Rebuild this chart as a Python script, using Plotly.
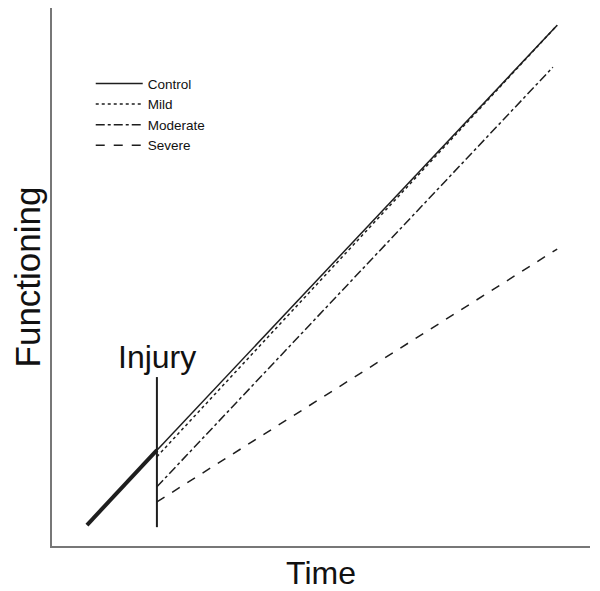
import plotly.graph_objects as go

# time points (arbitrary units, 0-100 across the axis)
t_start = 6.5
t_injury = 19.5
t_end = 93.9
t_end_moderate = 93.1

# functioning values (arbitrary units, 0-100 up the axis)
pre_injury = [3.9, 17.8]
control = [17.8, 96.8]
mild = [16.6, 96.8]
moderate = [11.0, 89.0]
severe = [8.2, 55.2]
injury_marker = [3.5, 31.4]
injury_label_y = 31.4

ink = "#1e1e1e"
fig = go.Figure()

fig.add_trace(go.Scatter(x=[t_start, t_injury], y=pre_injury, mode="lines",
                         line=dict(color=ink, width=4), showlegend=False, hoverinfo="skip"))
fig.add_trace(go.Scatter(x=[t_injury, t_injury], y=injury_marker, mode="lines",
                         line=dict(color=ink, width=2), showlegend=False, hoverinfo="skip"))

fig.add_trace(go.Scatter(x=[t_injury, t_end], y=control, mode="lines", name="Control",
                         line=dict(color=ink, width=1.5)))
fig.add_trace(go.Scatter(x=[t_injury, t_end], y=mild, mode="lines", name="Mild",
                         line=dict(color=ink, width=1.5, dash="dot")))
fig.add_trace(go.Scatter(x=[t_injury, t_end_moderate], y=moderate, mode="lines", name="Moderate",
                         line=dict(color=ink, width=1.5, dash="dashdot")))
fig.add_trace(go.Scatter(x=[t_injury, t_end], y=severe, mode="lines", name="Severe",
                         line=dict(color=ink, width=1.5, dash="dash")))

fig.add_annotation(x=t_injury, y=injury_label_y, text="Injury", showarrow=False,
                   xanchor="center", yanchor="bottom",
                   font=dict(family="Liberation Sans, Arial", size=32, color="#111"))

# page body adds an 8px margin, so the figure is 8px smaller than the window
fig.update_layout(
    width=592, height=583,
    margin=dict(l=44, r=10, t=0, b=45),
    plot_bgcolor="white", paper_bgcolor="white",
    font=dict(family="Liberation Sans, Arial", color="#111"),
    legend=dict(x=0.072, y=0.888, xanchor="left", yanchor="top",
                font=dict(size=13.5), itemwidth=47, tracegroupgap=0,
                bgcolor="rgba(0,0,0,0)"),
    xaxis=dict(range=[0, 100], showticklabels=False, ticks="", showgrid=False, zeroline=False,
               showline=True, linecolor="#777", linewidth=2, automargin=False,
               title=dict(text="Time", font=dict(size=32), standoff=15)),
    yaxis=dict(range=[0, 100], showticklabels=False, ticks="", showgrid=False, zeroline=False,
               showline=True, linecolor="#777", linewidth=2, automargin=False,
               title=dict(text="Functioning", font=dict(size=35), standoff=14)),
)

fig.write_html("out.html")
